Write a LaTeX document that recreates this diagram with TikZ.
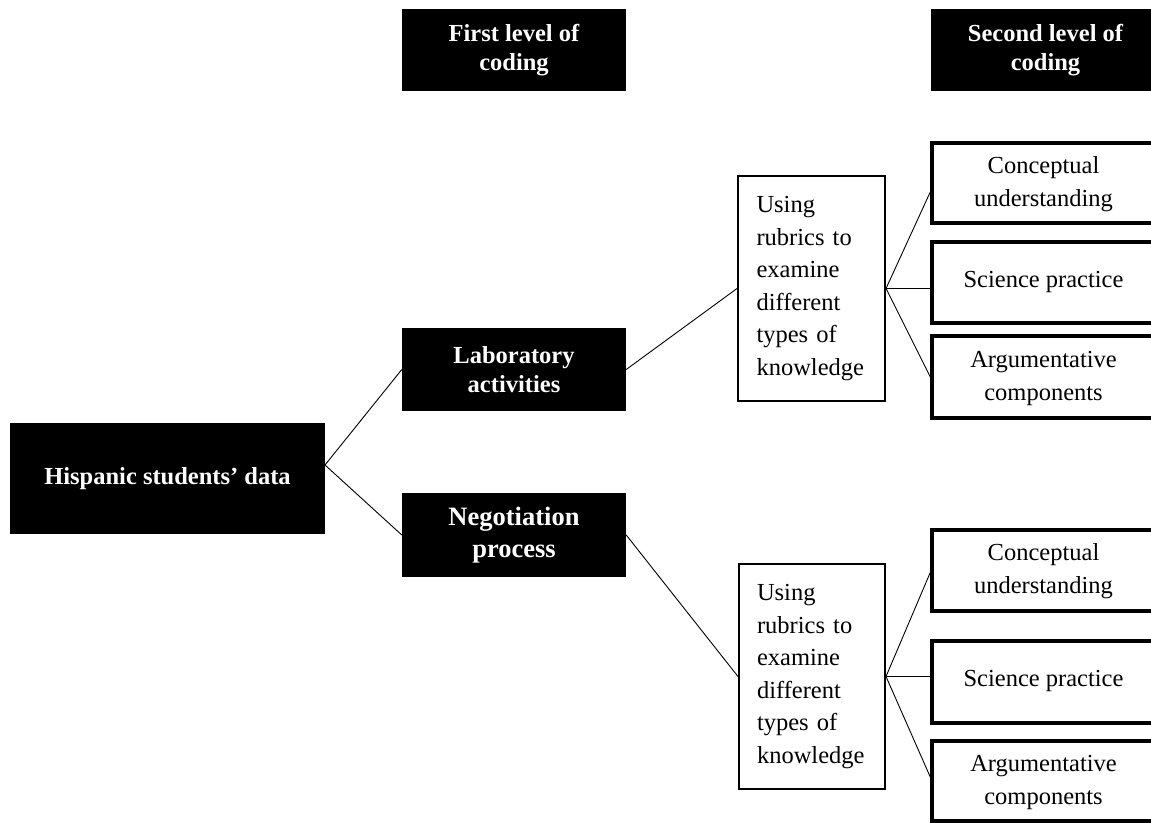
\documentclass[tikz,border=0pt]{standalone}
\usepackage{fontspec}
\setmainfont{Liberation Serif}
\usetikzlibrary{calc}
\newcommand{\twoline}[3]{\raisebox{#1}{\begin{tabular}{@{}c@{}}#2\\#3\end{tabular}}}
\tikzset{
  blackbox/.style={fill=black, draw=none, text=white, font=\fontsize{24.5}{29}\selectfont\bfseries, align=center, inner sep=0pt},
  rubricbox/.style={draw=black, line width=2pt, fill=white, align=left, text width=110pt, inner xsep=18pt, inner ysep=0pt, minimum width=147pt, minimum height=225pt, font=\fontsize{24.5}{32.6}\selectfont},
  codebox/.style={draw=black, line width=3.5pt, fill=white, align=center, inner sep=0pt, minimum width=223pt, font=\fontsize{24.5}{33}\selectfont},
  conn/.style={draw=black, line width=0.9pt}
}
\begin{document}
\begin{tikzpicture}[x=1pt,y=-1pt]
\clip (0,0) rectangle (1151,822);
\fill[white] (0,0) rectangle (1151,822);

% headers
\node[blackbox, minimum width=224pt, minimum height=82pt] (h1) at (514,50) {First level of\\coding};
\node[blackbox, minimum width=229pt, minimum height=82pt] (h2) at (1045.5,50) {Second level of\\coding};

% root
\node[blackbox, minimum width=315pt, minimum height=111pt] (hisp) at (167.5,478.5) {\raisebox{3pt}{Hispanic students’ data}};
\coordinate (hj) at (325,465);

% first level
\node[blackbox, minimum width=224pt, minimum height=83pt] (lab) at (514,369.5) {Laboratory\\activities};
\node[blackbox, minimum width=224pt, minimum height=84pt, font=\fontsize{26.5}{32}\selectfont\bfseries] (neg) at (514,535) {\raisebox{-3pt}{\begin{tabular}{@{}c@{}}Negotiation\\process\end{tabular}}};

% rubric boxes
\node[rubricbox] (rub1) at (811.5,288.5) {Using\\rubrics to\\examine\\different\\types of\\knowledge};
\node[rubricbox, minimum width=144pt] (rub2) at (812,676.5) {Using\\rubrics to\\examine\\different\\types of\\knowledge};

% second level, upper
\node[codebox, minimum height=80pt] (conc1) at (1043.5,183) {\twoline{5pt}{Conceptual}{understanding}};
\node[codebox, minimum height=81pt] (sci1) at (1043.5,282.5) {\raisebox{7pt}{Science practice}};
\node[codebox, minimum height=82pt] (arg1) at (1043.5,377) {\twoline{2pt}{Argumentative}{components}};

% second level, lower
\node[codebox, minimum height=81pt] (conc2) at (1043.5,570.5) {\twoline{5pt}{Conceptual}{understanding}};
\node[codebox, minimum height=82pt] (sci2) at (1043.5,682) {\raisebox{7pt}{Science practice}};
\node[codebox, minimum height=80pt] (arg2) at (1043.5,781) {\twoline{2pt}{Argumentative}{components}};

% connectors
\draw[conn] (hj) -- (lab.west);
\draw[conn] (hj) -- (neg.west);
\draw[conn] (lab.east) -- (rub1.west);
\draw[conn] (neg.east) -- (rub2.west);

\draw[conn] (rub1.east) -- ($(conc1.west)+(0,9)$);
\draw[conn] (rub1.east) -- (rub1.east -| sci1.west);
\draw[conn] (rub1.east) -- (arg1.west);

\draw[conn] (rub2.east) -- ($(conc2.west)+(0,2)$);
\draw[conn] (rub2.east) -- (rub2.east -| sci2.west);
\draw[conn] (rub2.east) -- ($(arg2.west)+(0,-4)$);
\end{tikzpicture}
\end{document}
